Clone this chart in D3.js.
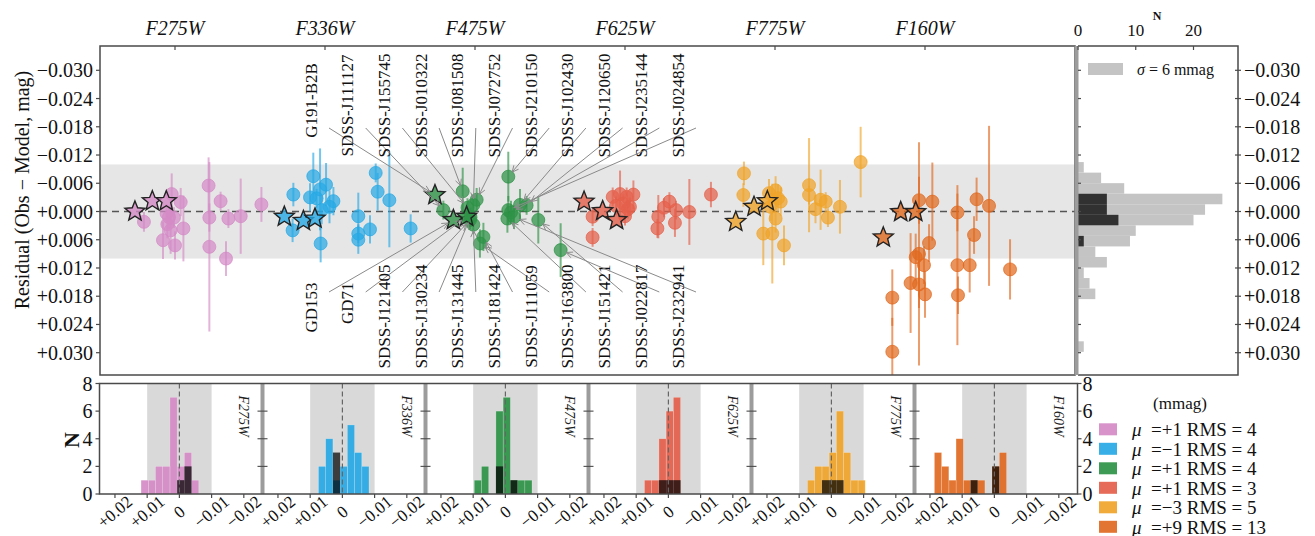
<!DOCTYPE html>
<html>
<head>
<meta charset="utf-8">
<script src="https://cdn.jsdelivr.net/npm/d3@7"></script>
<style>
  body { margin: 0; background: #fff; }
  svg { font-family: "Liberation Serif", "DejaVu Serif", serif; }
  text { white-space: pre; }
</style>
</head>
<body>
<svg id="chart" width="1315" height="536"></svg>
<script>
// ---------------- data ----------------
const filters = ["F275W", "F336W", "F475W", "F625W", "F775W", "F160W"];
const filterColors = ["#d48ac6", "#27a9e5", "#2e9246", "#e4604b", "#f0a42a", "#e0691f"];
const legendMu = ["+1", "\u22121", "+1", "+1", "\u22123", "+9"];
const legendRms = [4, 4, 4, 3, 5, 13];

// residual tick values (mag)
const residualTicks = [-0.030, -0.024, -0.018, -0.012, -0.006, 0.000, 0.006, 0.012, 0.018, 0.024, 0.030];
const countTicksTop = [0, 10, 20];
const countTicksBottom = [0, 2, 4, 6, 8];
const offsetTicks = [0.02, 0.01, 0, -0.01, -0.02];
const offsetTickLabels = ["+0.02", "+0.01", "0", "\u22120.01", "\u22120.02"];

// histogram bin edges (mag)
const binEdges = [-0.0105, -0.00826, -0.00602, -0.00378, -0.00154, 0.0007, 0.00294, 0.00518,
  0.00742, 0.00966, 0.0119, 0.01414, 0.01638, 0.01862, 0.02086, 0.0231, 0.02534, 0.02758, 0.02982];

// circles per filter: [slot within filter, residual (mag), 1-sigma error (mag)]
const f275wPoints = [
  [-0.207, 0.0022, 0.0021], [-0.022, -0.0037, 0.0044], [0.038, -0.0020, 0.0030],
  [-0.056, 0.0004, 0.0020], [-0.007, 0.0013, 0.0022], [-0.051, 0.0027, 0.0030],
  [-0.029, 0.0040, 0.0050], [0.056, 0.0036, 0.0070], [-0.080, 0.0061, 0.0040],
  [0.000, 0.0072, 0.0030], [0.224, -0.0055, 0.0060], [0.304, -0.0022, 0.0020],
  [0.229, 0.0013, 0.0030], [0.229, 0.0075, 0.0180], [0.356, 0.0015, 0.0020],
  [0.438, 0.0010, 0.0080], [0.340, 0.0100, 0.0037], [0.576, -0.0015, 0.0037],
  [-0.040, 0.0012, 0.0025]
];
const f336wPoints = [
  [-0.211, -0.0036, 0.0025], [-0.216, 0.0040, 0.0025], [-0.078, -0.0075, 0.0050],
  [-0.033, -0.0047, 0.0087], [0.007, -0.0057, 0.0046], [-0.056, -0.0028, 0.0020],
  [0.056, -0.0022, 0.0030], [-0.022, -0.0003, 0.0030], [-0.029, 0.0068, 0.0040],
  [0.222, 0.0010, 0.0050], [0.222, 0.0047, 0.0020], [0.222, 0.0060, 0.0030],
  [0.300, 0.0038, 0.0030], [0.338, -0.0082, 0.0020], [0.351, -0.0042, 0.0040],
  [0.429, -0.0024, 0.0100], [0.571, 0.0036, 0.0030], [-0.100, -0.0030, 0.0030],
  [0.030, -0.0010, 0.0035]
];
// F475W circles carry the star names used by the annotations
const f475wPoints = [
  [-0.211, -0.0003, 0.0020, "SDSS-J111127"], [-0.082, -0.0043, 0.0050, "SDSS-J010322"],
  [-0.011, -0.0014, 0.0020, "SDSS-J081508"], [0.011, -0.0025, 0.0025, "SDSS-J072752"],
  [-0.033, 0.0018, 0.0020, "SDSS-J121405"], [-0.011, 0.0028, 0.0020, "SDSS-J131445"],
  [0.056, 0.0054, 0.0030, "SDSS-J181424"], [0.033, 0.0068, 0.0030, "SDSS-J111059"],
  [0.222, -0.0074, 0.0053, "SDSS-J210150"], [0.222, -0.0003, 0.0030, "SDSS-J024854"],
  [0.216, 0.0015, 0.0030, "SDSS-J163800"], [0.300, -0.0014, 0.0034, "SDSS-J102430"],
  [0.344, -0.0013, 0.0020, "SDSS-J120650"], [0.422, 0.0018, 0.0050, "SDSS-J151421"],
  [0.571, 0.0082, 0.0057, "SDSS-J022817"], [-0.050, -0.0008, 0.0020, "SDSS-J155745"],
  [0.240, 0.0002, 0.0025, "SDSS-J235144"], [-0.030, 0.0012, 0.0020, "SDSS-J130234"],
  [0.260, 0.0012, 0.0025, "SDSS-J232941"]
];
const f625wPoints = [
  [-0.216, 0.0011, 0.0020], [-0.216, 0.0055, 0.0020], [-0.082, -0.0031, 0.0020],
  [-0.033, -0.0037, 0.0050], [0.011, -0.0031, 0.0020], [0.056, -0.0036, 0.0030],
  [-0.011, -0.0017, 0.0020], [0.033, -0.0010, 0.0020], [0.222, 0.0011, 0.0046],
  [0.216, 0.0036, 0.0020], [0.296, -0.0021, 0.0020], [0.340, -0.0003, 0.0020],
  [0.333, 0.0024, 0.0030], [0.429, 0.0001, 0.0070], [0.573, -0.0036, 0.0027],
  [-0.060, -0.0012, 0.0020], [0.020, -0.0005, 0.0020], [0.260, -0.0008, 0.0020],
  [0.000, 0.0010, 0.0020]
];
const f775wPoints = [
  [-0.207, -0.0081, 0.0025], [-0.211, -0.0035, 0.0025], [-0.040, -0.0039, 0.0030],
  [0.004, -0.0045, 0.0030], [0.038, -0.0021, 0.0030], [0.004, 0.0015, 0.0030],
  [-0.078, 0.0047, 0.0067], [-0.018, 0.0047, 0.0106], [0.060, 0.0072, 0.0042],
  [0.227, -0.0056, 0.0100], [0.227, -0.0035, 0.0020], [0.304, -0.0025, 0.0064],
  [0.338, -0.0021, 0.0020], [0.353, 0.0013, 0.0020], [0.433, -0.0010, 0.0057],
  [0.571, -0.0105, 0.0075], [0.020, -0.0028, 0.0030], [-0.030, -0.0010, 0.0030],
  [0.270, -0.0005, 0.0030]
];
const f160wPoints = [
  [-0.040, -0.0024, 0.0050], [0.049, -0.0021, 0.0083], [0.027, 0.0067, 0.0040],
  [-0.040, 0.0090, 0.0237], [-0.062, 0.0097, 0.0050], [-0.007, 0.0114, 0.0040],
  [-0.096, 0.0152, 0.0106], [-0.040, 0.0155, 0.0050], [0.000, 0.0176, 0.0050],
  [-0.218, 0.0183, 0.0060], [-0.218, 0.0298, 0.0072], [0.216, 0.0002, 0.0040],
  [0.344, -0.0026, 0.0046], [0.427, -0.0012, 0.0170], [0.327, 0.0050, 0.0040],
  [0.216, 0.0114, 0.0170], [0.298, 0.0114, 0.0058], [0.220, 0.0178, 0.0040],
  [0.567, 0.0123, 0.0064]
];

// CALSPEC primaries (stars) per filter: [slot, residual]; order G191-B2B, GD153, GD71
const primaryNames = ["G191-B2B", "GD153", "GD71"];
const f275wStars = [[-0.267, 0.0000], [-0.151, -0.0022], [-0.058, -0.0022]];
const f336wStars = [[-0.271, 0.0011], [-0.144, 0.0020], [-0.067, 0.0015]];
const f475wStars = [[-0.267, -0.0035], [-0.144, 0.0018], [-0.056, 0.0011]];
const f625wStars = [[-0.273, -0.0021], [-0.149, -0.0001], [-0.056, 0.0018]];
const f775wStars = [[-0.262, 0.0022], [-0.140, -0.0010], [-0.051, -0.0022]];
const f160wStars = [[-0.162, 0.0001], [-0.062, 0.0001], [-0.278, 0.0055]];

const topLabels = ["G191-B2B", "SDSS-J111127", "SDSS-J155745", "SDSS-J010322", "SDSS-J081508",
  "SDSS-J072752", "SDSS-J210150", "SDSS-J102430", "SDSS-J120650", "SDSS-J235144", "SDSS-J024854"];
const bottomLabels = ["GD153", "GD71", "SDSS-J121405", "SDSS-J130234", "SDSS-J131445",
  "SDSS-J181424", "SDSS-J111059", "SDSS-J163800", "SDSS-J151421", "SDSS-J022817", "SDSS-J232941"];

const pointSets = [f275wPoints, f336wPoints, f475wPoints, f625wPoints, f775wPoints, f160wPoints];
const starSets = [f275wStars, f336wStars, f475wStars, f625wStars, f775wStars, f160wStars];

// ---------------- layout ----------------
const svg = d3.select("#chart");
const M = { x0: 100, x1: 1075, y0: 46, y1: 375 };      // residual panel
const Hh = { x0: 1078, x1: 1238 };                      // side histogram
const B = { x0: 99.5, w: 163, y0: 383.5, y1: 494 };     // small histograms
const axisColor = "#4a4a4a";
const sepColor = "#9c9c9c";

const xFilt = d3.scaleLinear().domain([-0.5, 6]).range([M.x0, M.x1]);
const yRes = d3.scaleLinear().domain([-0.030, 0.030]).range([70.3, 352.7]);
const xN = d3.scaleLinear().domain([0, 20]).range([Hh.x0, 1193.5]);
const yBot = d3.scaleLinear().domain([0, 8]).range([B.y1, B.y0]);

const binner = d3.bin()
  .domain([binEdges[0], binEdges[binEdges.length - 1]])
  .thresholds(binEdges.slice(1, -1));
const counts = vals => binner(vals).map(b => b.length);

const defs = svg.append("defs");
defs.append("clipPath").attr("id", "clipMain")
  .append("rect").attr("x", M.x0).attr("y", M.y0).attr("width", M.x1 - M.x0).attr("height", M.y1 - M.y0);

// ---------------- residual panel ----------------
const gMain = svg.append("g");
gMain.append("rect")
  .attr("x", M.x0).attr("width", M.x1 - M.x0)
  .attr("y", yRes(-0.010)).attr("height", yRes(0.010) - yRes(-0.010))
  .attr("fill", "#e6e6e6");
gMain.append("line")
  .attr("x1", M.x0).attr("x2", M.x1).attr("y1", yRes(0)).attr("y2", yRes(0))
  .attr("stroke", "#555").attr("stroke-width", 1.5).attr("stroke-dasharray", "7,5");

const plotG = gMain.append("g").attr("clip-path", "url(#clipMain)");

function starPath(R, r) {
  const pts = [];
  for (let i = 0; i < 10; i++) {
    const a = -Math.PI / 2 + i * Math.PI / 5;
    const rad = i % 2 === 0 ? R : r;
    pts.push([rad * Math.cos(a), rad * Math.sin(a)]);
  }
  return "M" + pts.map(p => p[0].toFixed(2) + "," + p[1].toFixed(2)).join("L") + "Z";
}
const starD = starPath(10.5, 4.6);

pointSets.forEach((pts, fi) => {
  const col = filterColors[fi];
  const g = plotG.append("g");
  g.selectAll("line.err").data(pts).join("line")
    .attr("x1", d => xFilt(fi + d[0])).attr("x2", d => xFilt(fi + d[0]))
    .attr("y1", d => yRes(d[1] - d[2])).attr("y2", d => yRes(d[1] + d[2]))
    .attr("stroke", col).attr("stroke-opacity", 0.65).attr("stroke-width", 2);
  g.selectAll("circle").data(pts).join("circle")
    .attr("cx", d => xFilt(fi + d[0])).attr("cy", d => yRes(d[1])).attr("r", 6.5)
    .attr("fill", col).attr("fill-opacity", 0.72)
    .attr("stroke", col).attr("stroke-opacity", 0.9).attr("stroke-width", 0.8);
});
starSets.forEach((st, fi) => {
  plotG.append("g").selectAll("path").data(st).join("path")
    .attr("d", starD)
    .attr("transform", d => `translate(${xFilt(fi + d[0])},${yRes(d[1])})`)
    .attr("fill", filterColors[fi]).attr("fill-opacity", 0.8)
    .attr("stroke", "#222").attr("stroke-width", 1.4).attr("stroke-linejoin", "miter");
});

// annotations pointing at the F475W measurements
const f475wTargets = {};
f475wPoints.forEach(d => { f475wTargets[d[3]] = [xFilt(2 + d[0]), yRes(d[1])]; });
f475wStars.forEach((d, i) => { f475wTargets[primaryNames[i]] = [xFilt(2 + d[0]), yRes(d[1])]; });

const annG = svg.append("g");
function arrow(x0, y0, x1, y1) {
  const dx = x1 - x0, dy = y1 - y0, L = Math.hypot(dx, dy);
  const ux = dx / L, uy = dy / L;
  const ex = x1 - ux * 6, ey = y1 - uy * 6;
  annG.append("line").attr("x1", x0).attr("y1", y0).attr("x2", ex).attr("y2", ey)
    .attr("stroke", "#8a8a8a").attr("stroke-width", 1);
  const ang = Math.atan2(uy, ux), hl = 7, ha = 0.45;
  const p = a => [ex - hl * Math.cos(ang + a), ey - hl * Math.sin(ang + a)];
  const a1 = p(ha), a2 = p(-ha);
  annG.append("path").attr("d", `M${a1[0]},${a1[1]}L${ex},${ey}L${a2[0]},${a2[1]}`)
    .attr("fill", "none").attr("stroke", "#8a8a8a").attr("stroke-width", 1);
}
const labelX = i => 311 + i * 36.7;
topLabels.forEach((name, i) => {
  const lx = labelX(i);
  const cy = name.startsWith("SDSS") ? 105.5 : 100.5;
  const t = f475wTargets[name];
  arrow(lx + 18, 128, t[0], t[1]);
  annG.append("text").attr("transform", `translate(${lx},${cy}) rotate(-90)`)
    .attr("text-anchor", "middle").attr("dominant-baseline", "central")
    .attr("font-size", 17).attr("fill", "#111").text(name);
});
bottomLabels.forEach((name, i) => {
  const lx = labelX(i);
  const t = f475wTargets[name];
  arrow(lx + 18, 292, t[0], t[1]);
  const txt = annG.append("text").attr("dominant-baseline", "central")
    .attr("font-size", 17).attr("fill", "#111").text(name);
  if (name.startsWith("SDSS")) {
    txt.attr("transform", `translate(${lx},316.5) rotate(-90)`).attr("text-anchor", "middle");
  } else {
    txt.attr("transform", `translate(${lx},282.5) rotate(-90)`).attr("text-anchor", "end");
  }
});

// frame and axes of the residual panel
gMain.append("rect").attr("x", M.x0).attr("y", M.y0).attr("width", M.x1 - M.x0).attr("height", M.y1 - M.y0)
  .attr("fill", "none").attr("stroke", axisColor).attr("stroke-width", 1.5);
const yAxisL = svg.append("g");
residualTicks.forEach(v => {
  const y = yRes(v);
  yAxisL.append("line").attr("x1", M.x0 - 4).attr("x2", M.x0).attr("y1", y).attr("y2", y)
    .attr("stroke", axisColor).attr("stroke-width", 1.2);
  const lab = (v < 0 ? "\u2212" : "+") + Math.abs(v).toFixed(3);
  yAxisL.append("text").attr("x", M.x0 - 7).attr("y", y).attr("text-anchor", "end")
    .attr("dominant-baseline", "central").attr("font-size", 20).attr("fill", "#111").text(lab);
});
svg.append("text").attr("transform", "translate(22,190) rotate(-90)")
  .attr("text-anchor", "middle").attr("dominant-baseline", "central")
  .attr("font-size", 20).attr("fill", "#111").text("Residual (Obs \u2212 Model, mag)");
filters.forEach((f, i) => {
  const x = xFilt(i);
  svg.append("line").attr("x1", x).attr("x2", x).attr("y1", M.y0).attr("y2", M.y0 + 4)
    .attr("stroke", axisColor).attr("stroke-width", 1.2);
  svg.append("text").attr("x", x).attr("y", 35).attr("text-anchor", "middle")
    .attr("font-size", 20).attr("font-style", "italic").attr("fill", "#111").text(f);
});

// ---------------- side histogram ----------------
const allCircles = pointSets.flat().map(d => d[1]);
const allStars = starSets.flat().map(d => d[1]);
const sideAll = counts(allCircles);
const sideStars = counts(allStars);
const gSide = svg.append("g");
const sideBars = (cnt, fill, op) => {
  gSide.append("g").selectAll("rect").data(cnt.map((c, k) => ({ c, k })).filter(d => d.c > 0)).join("rect")
    .attr("x", xN(0)).attr("width", d => xN(d.c) - xN(0))
    .attr("y", d => yRes(binEdges[d.k])).attr("height", d => yRes(binEdges[d.k + 1]) - yRes(binEdges[d.k]))
    .attr("fill", fill).attr("fill-opacity", op);
};
sideBars(sideAll, "#c4c4c4", 1);
sideBars(sideStars, "#000", 0.75);
// legend in the side panel
gSide.append("rect").attr("x", 1088).attr("y", 63).attr("width", 35).attr("height", 12).attr("fill", "#c4c4c4");
const sl = gSide.append("text").attr("x", 1137).attr("y", 75).attr("font-size", 16).attr("fill", "#111");
sl.append("tspan").attr("font-style", "italic").text("\u03c3");
sl.append("tspan").text(" = 6 mmag");
// frame
gSide.append("path").attr("d", `M${Hh.x0},${M.y0}H${Hh.x1}V${M.y1}H${Hh.x0}`)
  .attr("fill", "none").attr("stroke", axisColor).attr("stroke-width", 1.5);
gSide.append("line").attr("x1", 1076.5).attr("x2", 1076.5).attr("y1", M.y0).attr("y2", M.y1)
  .attr("stroke", sepColor).attr("stroke-width", 4);
countTicksTop.forEach(v => {
  const x = xN(v);
  gSide.append("line").attr("x1", x).attr("x2", x).attr("y1", M.y0).attr("y2", M.y0 + 4)
    .attr("stroke", axisColor).attr("stroke-width", 1.2);
  gSide.append("text").attr("x", x).attr("y", 36).attr("text-anchor", "middle")
    .attr("font-size", 17).attr("fill", "#111").text(v);
});
gSide.append("text").attr("x", 1157).attr("y", 20).attr("text-anchor", "middle")
  .attr("font-size", 12).attr("font-weight", "bold").attr("fill", "#111").text("N");
residualTicks.forEach(v => {
  const y = yRes(v);
  gSide.append("line").attr("x1", Hh.x1 - 3).attr("x2", Hh.x1 + 3).attr("y1", y).attr("y2", y)
    .attr("stroke", axisColor).attr("stroke-width", 1.2);
  gSide.append("line").attr("x1", Hh.x0).attr("x2", Hh.x0 + 3).attr("y1", y).attr("y2", y)
    .attr("stroke", axisColor).attr("stroke-width", 1.2);
  const lab = (v < 0 ? "\u2212" : "+") + Math.abs(v).toFixed(3);
  gSide.append("text").attr("x", Hh.x1 + 6).attr("y", y).attr("dominant-baseline", "central")
    .attr("font-size", 20).attr("fill", "#111").text(lab);
});

// ---------------- per-filter histograms ----------------
const gBot = svg.append("g");
filters.forEach((f, fi) => {
  const p0 = B.x0 + fi * B.w, p1 = p0 + B.w;
  const xB = d3.scaleLinear().domain([0.0248, -0.0258]).range([p0, p1]);
  defs.append("clipPath").attr("id", "clipB" + fi).append("rect")
    .attr("x", p0).attr("y", B.y0).attr("width", B.w).attr("height", B.y1 - B.y0);
  const g = gBot.append("g").attr("clip-path", `url(#clipB${fi})`);
  g.append("rect").attr("x", xB(0.01)).attr("width", xB(-0.01) - xB(0.01))
    .attr("y", B.y0).attr("height", B.y1 - B.y0).attr("fill", "#d9d9d9");
  const drawBars = (cnt, fill, op, strokeOp) => {
    g.append("g").selectAll("rect").data(cnt.map((c, k) => ({ c, k })).filter(d => d.c > 0)).join("rect")
      .attr("x", d => xB(binEdges[d.k + 1])).attr("width", d => xB(binEdges[d.k]) - xB(binEdges[d.k + 1]))
      .attr("y", d => yBot(d.c)).attr("height", d => yBot(0) - yBot(d.c))
      .attr("fill", fill).attr("fill-opacity", op)
      .attr("stroke", "#fff").attr("stroke-opacity", strokeOp).attr("stroke-width", 0.6);
  };
  drawBars(counts(pointSets[fi].map(d => d[1])), filterColors[fi], 0.92, 0.35);
  drawBars(counts(starSets[fi].map(d => d[1])), "#000", 0.72, 0);
  g.append("line").attr("x1", xB(0)).attr("x2", xB(0)).attr("y1", B.y0).attr("y2", B.y1)
    .attr("stroke", "#666").attr("stroke-width", 1.2).attr("stroke-dasharray", "5,3");
  gBot.append("text").attr("transform", `translate(${p1 - 19},416) rotate(90)`)
    .attr("text-anchor", "middle").attr("dominant-baseline", "central")
    .attr("font-size", 14).attr("font-style", "italic")
    .attr("fill", "#222").text(f);
  offsetTicks.forEach((v, ti) => {
    const x = xB(v);
    gBot.append("line").attr("x1", x).attr("x2", x).attr("y1", B.y1).attr("y2", B.y1 + 4)
      .attr("stroke", axisColor).attr("stroke-width", 1.2);
    gBot.append("text").attr("transform", `translate(${x},512) rotate(-40)`)
      .attr("text-anchor", "middle").attr("dominant-baseline", "central")
      .attr("font-size", 17).attr("fill", "#111").text(offsetTickLabels[ti]);
  });
  if (fi < filters.length - 1) {
    gBot.append("line").attr("x1", p1).attr("x2", p1).attr("y1", B.y0).attr("y2", B.y1)
      .attr("stroke", sepColor).attr("stroke-width", 4);
    countTicksBottom.slice(1, -1).forEach(v => {
      gBot.append("line").attr("x1", p1 - 5).attr("x2", p1 + 5).attr("y1", yBot(v)).attr("y2", yBot(v))
        .attr("stroke", axisColor).attr("stroke-width", 1.1);
    });
  }
});
const bRight = B.x0 + filters.length * B.w;
gBot.append("rect").attr("x", B.x0).attr("y", B.y0).attr("width", bRight - B.x0).attr("height", B.y1 - B.y0)
  .attr("fill", "none").attr("stroke", axisColor).attr("stroke-width", 1.5);
countTicksBottom.forEach(v => {
  const y = yBot(v);
  gBot.append("line").attr("x1", B.x0 - 4).attr("x2", B.x0).attr("y1", y).attr("y2", y)
    .attr("stroke", axisColor).attr("stroke-width", 1.2);
  gBot.append("text").attr("x", B.x0 - 7).attr("y", y).attr("text-anchor", "end")
    .attr("dominant-baseline", "central").attr("font-size", 20).attr("fill", "#111").text(v);
  gBot.append("line").attr("x1", bRight).attr("x2", bRight + 4).attr("y1", y).attr("y2", y)
    .attr("stroke", axisColor).attr("stroke-width", 1.2);
  gBot.append("text").attr("x", bRight + 5).attr("y", y)
    .attr("dominant-baseline", "central").attr("font-size", 20).attr("fill", "#111").text(v);
});
gBot.append("text").attr("transform", "translate(71,440) rotate(-90)")
  .attr("text-anchor", "middle").attr("dominant-baseline", "central")
  .attr("font-size", 22).attr("font-weight", "bold").attr("fill", "#111").text("N");

// ---------------- summary legend ----------------
const gLeg = svg.append("g");
gLeg.append("text").attr("x", 1180).attr("y", 409).attr("text-anchor", "middle")
  .attr("font-size", 17).attr("fill", "#111").text("(mmag)");
filters.forEach((f, i) => {
  const y = 429.3 + i * 19.5;
  gLeg.append("rect").attr("x", 1099).attr("y", y - 6).attr("width", 18).attr("height", 12)
    .attr("fill", filterColors[i]).attr("fill-opacity", 0.92);
  const t = gLeg.append("text").attr("x", 1132).attr("y", y).attr("dominant-baseline", "central")
    .attr("font-size", 19).attr("fill", "#111");
  t.append("tspan").attr("font-style", "italic").text("\u03bc");
  t.append("tspan").text("  =" + legendMu[i] + " RMS = " + legendRms[i]);
});
</script>
</body>
</html>
